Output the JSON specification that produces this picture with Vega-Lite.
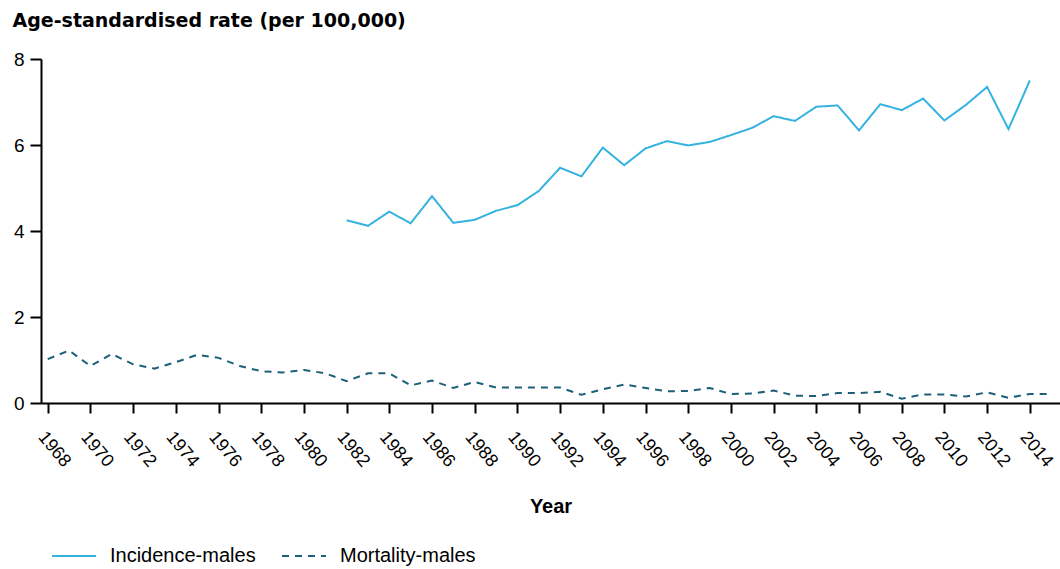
{
  "$schema": "https://vega.github.io/schema/vega-lite/v6.json",
  "autosize": {"type": "none"},
  "padding": {"left": 41, "top": 59, "right": 0, "bottom": 166},
  "width": 1019,
  "height": 344,
  "background": "white",
  "config": {
    "view": {"stroke": null},
    "font": "Arial, Liberation Sans, sans-serif"
  },
  "data": {
    "values": [
      {"year": 1982, "series": "Incidence-males", "rate": 4.25},
      {"year": 1983, "series": "Incidence-males", "rate": 4.12},
      {"year": 1984, "series": "Incidence-males", "rate": 4.45},
      {"year": 1985, "series": "Incidence-males", "rate": 4.18},
      {"year": 1986, "series": "Incidence-males", "rate": 4.81},
      {"year": 1987, "series": "Incidence-males", "rate": 4.19},
      {"year": 1988, "series": "Incidence-males", "rate": 4.26},
      {"year": 1989, "series": "Incidence-males", "rate": 4.47},
      {"year": 1990, "series": "Incidence-males", "rate": 4.6},
      {"year": 1991, "series": "Incidence-males", "rate": 4.93},
      {"year": 1992, "series": "Incidence-males", "rate": 5.47},
      {"year": 1993, "series": "Incidence-males", "rate": 5.27},
      {"year": 1994, "series": "Incidence-males", "rate": 5.94},
      {"year": 1995, "series": "Incidence-males", "rate": 5.53},
      {"year": 1996, "series": "Incidence-males", "rate": 5.92},
      {"year": 1997, "series": "Incidence-males", "rate": 6.09},
      {"year": 1998, "series": "Incidence-males", "rate": 5.99},
      {"year": 1999, "series": "Incidence-males", "rate": 6.07},
      {"year": 2000, "series": "Incidence-males", "rate": 6.23},
      {"year": 2001, "series": "Incidence-males", "rate": 6.4},
      {"year": 2002, "series": "Incidence-males", "rate": 6.67},
      {"year": 2003, "series": "Incidence-males", "rate": 6.56},
      {"year": 2004, "series": "Incidence-males", "rate": 6.89},
      {"year": 2005, "series": "Incidence-males", "rate": 6.92},
      {"year": 2006, "series": "Incidence-males", "rate": 6.34},
      {"year": 2007, "series": "Incidence-males", "rate": 6.95},
      {"year": 2008, "series": "Incidence-males", "rate": 6.81},
      {"year": 2009, "series": "Incidence-males", "rate": 7.08},
      {"year": 2010, "series": "Incidence-males", "rate": 6.57},
      {"year": 2011, "series": "Incidence-males", "rate": 6.93},
      {"year": 2012, "series": "Incidence-males", "rate": 7.35},
      {"year": 2013, "series": "Incidence-males", "rate": 6.37},
      {"year": 2014, "series": "Incidence-males", "rate": 7.5},
      {"year": 1968, "series": "Mortality-males", "rate": 1.02},
      {"year": 1969, "series": "Mortality-males", "rate": 1.22},
      {"year": 1970, "series": "Mortality-males", "rate": 0.86},
      {"year": 1971, "series": "Mortality-males", "rate": 1.14},
      {"year": 1972, "series": "Mortality-males", "rate": 0.9},
      {"year": 1973, "series": "Mortality-males", "rate": 0.8},
      {"year": 1974, "series": "Mortality-males", "rate": 0.95},
      {"year": 1975, "series": "Mortality-males", "rate": 1.12},
      {"year": 1976, "series": "Mortality-males", "rate": 1.05},
      {"year": 1977, "series": "Mortality-males", "rate": 0.86},
      {"year": 1978, "series": "Mortality-males", "rate": 0.74},
      {"year": 1979, "series": "Mortality-males", "rate": 0.71},
      {"year": 1980, "series": "Mortality-males", "rate": 0.77},
      {"year": 1981, "series": "Mortality-males", "rate": 0.69},
      {"year": 1982, "series": "Mortality-males", "rate": 0.51},
      {"year": 1983, "series": "Mortality-males", "rate": 0.69},
      {"year": 1984, "series": "Mortality-males", "rate": 0.69},
      {"year": 1985, "series": "Mortality-males", "rate": 0.41},
      {"year": 1986, "series": "Mortality-males", "rate": 0.52},
      {"year": 1987, "series": "Mortality-males", "rate": 0.35},
      {"year": 1988, "series": "Mortality-males", "rate": 0.49},
      {"year": 1989, "series": "Mortality-males", "rate": 0.36},
      {"year": 1990, "series": "Mortality-males", "rate": 0.36},
      {"year": 1991, "series": "Mortality-males", "rate": 0.36},
      {"year": 1992, "series": "Mortality-males", "rate": 0.36},
      {"year": 1993, "series": "Mortality-males", "rate": 0.19},
      {"year": 1994, "series": "Mortality-males", "rate": 0.32},
      {"year": 1995, "series": "Mortality-males", "rate": 0.43},
      {"year": 1996, "series": "Mortality-males", "rate": 0.35},
      {"year": 1997, "series": "Mortality-males", "rate": 0.27},
      {"year": 1998, "series": "Mortality-males", "rate": 0.28},
      {"year": 1999, "series": "Mortality-males", "rate": 0.35},
      {"year": 2000, "series": "Mortality-males", "rate": 0.21},
      {"year": 2001, "series": "Mortality-males", "rate": 0.22},
      {"year": 2002, "series": "Mortality-males", "rate": 0.29},
      {"year": 2003, "series": "Mortality-males", "rate": 0.17},
      {"year": 2004, "series": "Mortality-males", "rate": 0.16},
      {"year": 2005, "series": "Mortality-males", "rate": 0.23},
      {"year": 2006, "series": "Mortality-males", "rate": 0.23},
      {"year": 2007, "series": "Mortality-males", "rate": 0.26},
      {"year": 2008, "series": "Mortality-males", "rate": 0.1},
      {"year": 2009, "series": "Mortality-males", "rate": 0.2},
      {"year": 2010, "series": "Mortality-males", "rate": 0.2},
      {"year": 2011, "series": "Mortality-males", "rate": 0.15},
      {"year": 2012, "series": "Mortality-males", "rate": 0.25},
      {"year": 2013, "series": "Mortality-males", "rate": 0.12},
      {"year": 2014, "series": "Mortality-males", "rate": 0.21},
      {"year": 2015, "series": "Mortality-males", "rate": 0.21}
    ]
  },
  "mark": {"type": "line", "strokeWidth": 2, "clip": false},
  "encoding": {
    "x": {
      "field": "year",
      "type": "quantitative",
      "scale": {"domain": [1967.686, 2015.414], "nice": false, "zero": false},
      "axis": {
        "values": [1968, 1970, 1972, 1974, 1976, 1978, 1980, 1982, 1984, 1986, 1988, 1990, 1992, 1994, 1996, 1998, 2000, 2002, 2004, 2006, 2008, 2010, 2012, 2014],
        "format": "d",
        "grid": false,
        "domainColor": "black",
        "domainWidth": 2,
        "tickColor": "black",
        "tickWidth": 2,
        "tickSize": 10,
        "labelAngle": 50,
        "labelAlign": "left",
        "labelBaseline": "top",
        "labelPadding": 15,
        "labelFontSize": 18,
        "labelColor": "black",
        "labelFont": "Arial, Liberation Sans, sans-serif",
        "title": "Year",
        "titleFont": "Arial, Liberation Sans, sans-serif",
        "titleFontSize": 20,
        "titleFontWeight": "bold",
        "titleColor": "black",
        "titleBaseline": "alphabetic",
        "titleY": 109
      }
    },
    "y": {
      "field": "rate",
      "type": "quantitative",
      "scale": {"domain": [0, 8], "nice": false},
      "axis": {
        "values": [0, 2, 4, 6, 8],
        "grid": false,
        "domainColor": "black",
        "domainWidth": 2,
        "tickColor": "black",
        "tickWidth": 2,
        "tickSize": 11,
        "labelPadding": 6,
        "labelFontSize": 19,
        "labelColor": "black",
        "labelFont": "Arial, Liberation Sans, sans-serif",
        "title": "Age-standardised rate (per 100,000)",
        "titleAngle": 0,
        "titleAlign": "left",
        "titleBaseline": "alphabetic",
        "titleX": -29,
        "titleY": -33,
        "titleFont": "DejaVu Sans",
        "titleFontSize": 19,
        "titleFontWeight": "bold",
        "titleColor": "black"
      }
    },
    "color": {
      "field": "series",
      "type": "nominal",
      "scale": {"domain": ["Incidence-males", "Mortality-males"], "range": ["#35b3df", "#1d6079"]},
      "legend": {
        "title": null,
        "orient": "none",
        "direction": "horizontal",
        "legendX": 10,
        "legendY": 474,
        "symbolType": "stroke",
        "symbolSize": 1936,
        "symbolStrokeWidth": 2,
        "labelOffset": 13,
        "labelFontSize": 20,
        "labelFont": "Arial, Liberation Sans, sans-serif",
        "labelColor": "black",
        "columnPadding": 22
      }
    },
    "strokeDash": {
      "field": "series",
      "type": "nominal",
      "scale": {"domain": ["Incidence-males", "Mortality-males"], "range": [[1, 0], [7, 6]]},
      "legend": null
    }
  }
}
